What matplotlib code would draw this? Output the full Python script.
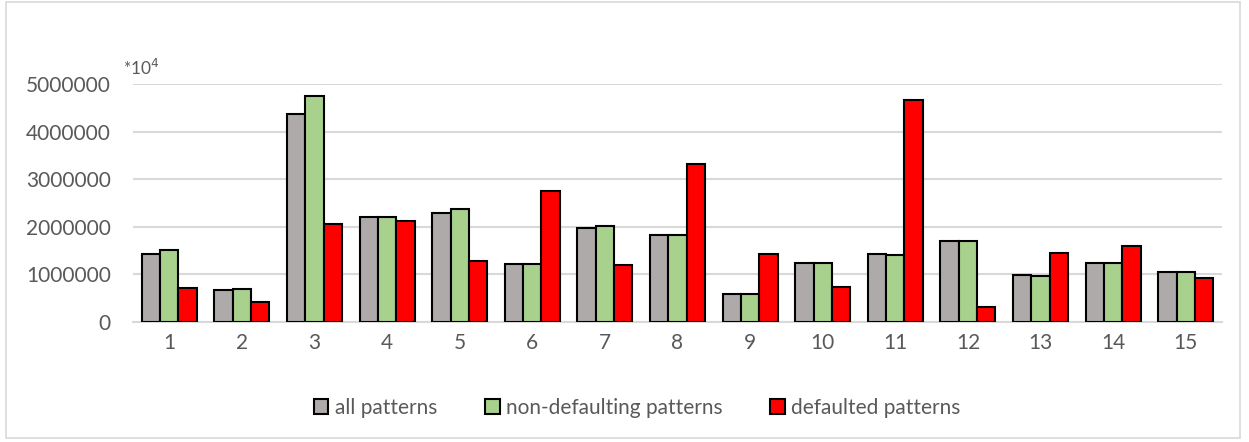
import matplotlib.pyplot as plt
import numpy as np

groups = [str(i) for i in range(1, 16)]
all_patterns = [1430000, 680000, 4360000, 2200000, 2290000, 1210000, 1980000, 1830000,
                590000, 1230000, 1420000, 1700000, 980000, 1250000, 1040000]
non_defaulting = [1510000, 690000, 4750000, 2200000, 2380000, 1210000, 2010000, 1830000,
                  590000, 1230000, 1410000, 1700000, 970000, 1250000, 1040000]
defaulted = [720000, 420000, 2050000, 2120000, 1290000, 2760000, 1200000, 3320000,
             1420000, 730000, 4660000, 310000, 1450000, 1590000, 920000]

series = [("all patterns", all_patterns, "#AEAAAA"),
          ("non-defaulting patterns", non_defaulting, "#A9D18E"),
          ("defaulted patterns", defaulted, "#FF0000")]

plt.rcParams['font.family'] = ['Lato', 'DejaVu Sans']

fig = plt.figure(figsize=(12.49, 4.42), dpi=100)
ax = fig.add_axes([133 / 1249, 1 - 322 / 442, (1222 - 133) / 1249, (322 - 84) / 442])

x = np.arange(len(groups))
w = 0.253
for i, (name, vals, col) in enumerate(series):
    ax.bar(x + (i - 1) * w, vals, w, color=col, edgecolor='black', linewidth=1.5,
           label=name, zorder=3)

ax.set_xlim(-0.5, len(groups) - 0.5)
ax.set_ylim(0, 5000000)
ax.set_yticks(range(0, 5000001, 1000000))
ax.set_yticklabels([str(v) for v in range(0, 5000001, 1000000)])
ax.set_xticks(x)
ax.set_xticklabels(groups)
ax.grid(axis='y', color='#D9D9D9', linewidth=1.5, zorder=0)
for s in ['top', 'right', 'left']:
    ax.spines[s].set_visible(False)
ax.spines['bottom'].set_color('#D9D9D9')
ax.spines['bottom'].set_linewidth(1.5)
ax.tick_params(length=0, labelsize=15, colors='#595959', pad=8)
ax.tick_params(axis='y', pad=16)

fig.text(123 / 1249, 1 - 68 / 442, r'*10$^4$', fontsize=12.5, color='#595959', va='center')

ax.legend(loc='center', bbox_to_anchor=(0.463, -0.36), ncol=3, frameon=False,
          fontsize=15, labelcolor='#595959', handlelength=0.7, handleheight=0.7,
          handletextpad=0.3, columnspacing=2.3)

border = plt.Rectangle((6 / 1249, 4 / 442), 1234 / 1249, 436 / 442, transform=fig.transFigure,
                       fill=False, edgecolor='#D9D9D9', linewidth=1.2)
fig.patches.append(border)

fig.savefig('out.png', dpi=100)
